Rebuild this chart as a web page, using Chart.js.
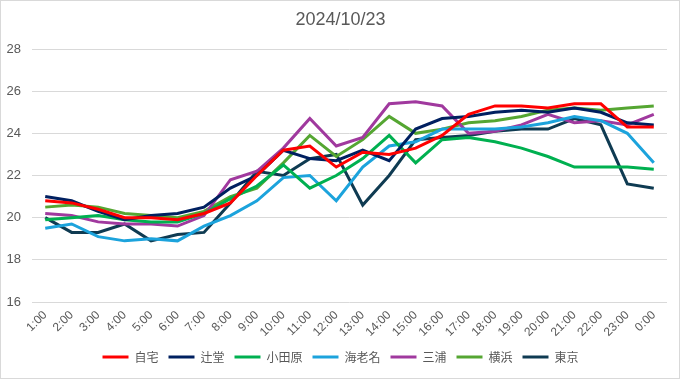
<!DOCTYPE html>
<html>
<head>
<meta charset="utf-8">
<script src="https://cdn.jsdelivr.net/npm/chart.js@4.4.1/dist/chart.umd.min.js"></script>
<style>
  html, body { margin: 0; padding: 0; background: #fff; }
  #wrap { position: relative; width: 681px; height: 379px; }
</style>
</head>
<body>
<div id="wrap"><canvas id="c" width="681" height="379"></canvas></div>
<script>
const titleText = "2024/10/23";
const categories = ["1:00","2:00","3:00","4:00","5:00","6:00","7:00","8:00","9:00","10:00","11:00","12:00",
  "13:00","14:00","15:00","16:00","17:00","18:00","19:00","20:00","21:00","22:00","23:00","0:00"];
const yTicks = [16, 18, 20, 22, 24, 26, 28];

const seriesNames = ["自宅","辻堂","小田原","海老名","三浦","横浜","東京"];
const seriesColors = ["#FF0000","#002060","#00B050","#1CA3DC","#A0399E","#55A632","#0F3B52"];

const jitaku   = [20.8,20.7,20.4,20.0,20.0,19.9,20.2,20.7,22.0,23.2,23.4,22.4,23.1,23.0,23.3,23.9,24.9,25.3,25.3,25.2,25.4,25.4,24.3,24.3];
const tsujido  = [21.0,20.8,20.3,19.9,20.1,20.2,20.5,21.4,22.0,23.2,22.8,22.7,23.2,22.7,24.2,24.7,24.8,25.0,25.1,25.0,25.2,25.0,24.5,24.4];
const odawara  = [19.9,20.0,20.1,19.9,19.8,19.8,20.2,20.9,21.5,22.5,21.4,22.0,22.8,23.9,22.6,23.7,23.8,23.6,23.3,22.9,22.4,22.4,22.4,22.3];
const ebina    = [19.5,19.7,19.1,18.9,19.0,18.9,19.6,20.1,20.8,21.9,22.0,20.8,22.4,23.4,23.6,24.2,24.2,24.2,24.3,24.5,24.8,24.6,24.0,22.6];
const miura    = [20.2,20.1,19.8,19.7,19.7,19.6,20.1,21.8,22.2,23.3,24.7,23.4,23.8,25.4,25.5,25.3,24.0,24.1,24.4,24.9,24.5,24.6,24.4,24.9];
const yokohama = [20.5,20.6,20.5,20.2,20.1,20.0,20.3,21.0,21.4,22.6,23.9,22.9,23.7,24.8,24.0,24.2,24.5,24.6,24.8,25.1,25.2,25.1,25.2,25.3];
const tokyo    = [20.0,19.3,19.3,19.7,18.9,19.2,19.3,20.7,22.2,22.0,22.8,23.0,20.6,22.0,23.7,23.8,23.9,24.1,24.2,24.2,24.7,24.4,21.6,21.4];

const seriesValues = [jitaku, tsujido, odawara, ebina, miura, yokohama, tokyo];

const fontFamily = "'Liberation Sans', Arial, 'Noto Sans CJK JP', sans-serif";
const textColor = "#595959";

const borderPlugin = {
  id: 'outerBorder',
  beforeDraw(chart) {
    const ctx = chart.ctx;
    ctx.save();
    ctx.fillStyle = '#ffffff';
    ctx.fillRect(0, 0, chart.width, chart.height);
    ctx.restore();
  },
  afterDraw(chart) {
    const ctx = chart.ctx;
    ctx.save();
    ctx.strokeStyle = '#d9d9d9';
    ctx.lineWidth = 1;
    ctx.strokeRect(0.5, 0.5, 679, 378);
    ctx.restore();
  }
};

new Chart(document.getElementById('c'), {
  type: 'line',
  data: {
    labels: categories,
    datasets: seriesNames.map((name, i) => ({
      label: name,
      data: seriesValues[i],
      borderColor: seriesColors[i],
      backgroundColor: seriesColors[i],
      borderWidth: 3,
      pointRadius: 0,
      pointHoverRadius: 0,
      tension: 0,
      fill: false
    }))
  },
  options: {
    responsive: false,
    animation: false,
    devicePixelRatio: 1,
    layout: { padding: { left: 0, right: 0, top: 0, bottom: 6 } },
    plugins: {
      title: {
        display: true,
        text: titleText,
        color: textColor,
        font: { family: fontFamily, size: 18, weight: 'normal' },
        padding: { top: 9, bottom: 18.4 }
      },
      legend: {
        position: 'bottom',
        labels: {
          usePointStyle: true,
          pointStyle: 'line',
          pointStyleWidth: 26,
          boxHeight: 12,
          padding: 10,
          color: textColor,
          font: { family: "'Noto Sans CJK JP', sans-serif", size: 12 }
        }
      },
      tooltip: { enabled: false }
    },
    scales: {
      x: {
        offset: true,
        grid: { display: false, drawTicks: false },
        border: { display: false },
        ticks: {
          color: textColor,
          font: { family: fontFamily, size: 12 },
          maxRotation: 45,
          minRotation: 45,
          autoSkip: false,
          padding: 6
        },
        afterFit(scale) { scale.height = 39; }
      },
      y: {
        min: 16,
        max: 28,
        afterBuildTicks(scale) { scale.ticks = yTicks.map(v => ({ value: v })); },
        grid: { color: '#d9d9d9', lineWidth: 1, drawTicks: false },
        border: { display: false },
        ticks: {
          color: textColor,
          font: { family: fontFamily, size: 13 },
          padding: 11
        },
        afterFit(scale) { scale.width = 32; }
      },
      yRight: {
        position: 'right',
        display: true,
        min: 16,
        max: 28,
        grid: { display: false, drawTicks: false },
        border: { display: false },
        ticks: { display: false },
        afterFit(scale) { scale.width = 14; }
      }
    }
  },
  plugins: [borderPlugin]
});
</script>
</body>
</html>
